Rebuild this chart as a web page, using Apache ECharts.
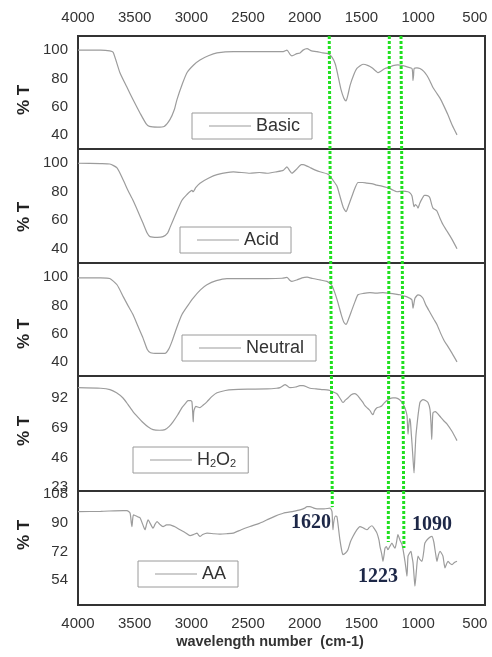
<!DOCTYPE html>
<html>
<head>
<meta charset="utf-8">
<script src="https://cdn.jsdelivr.net/npm/echarts@6/dist/echarts.min.js"></script>
<style>
  html, body { margin: 0; padding: 0; background: #fff; }
  #chart { width: 492px; height: 657px; }
</style>
</head>
<body>
<div id="chart"></div>
<script>
// FTIR transmittance spectra, one stacked panel per sample
const wavenumberTicks = [4000, 3500, 3000, 2500, 2000, 1500, 1000, 500];
const sampleNames = ['Basic', 'Acid', 'Neutral', 'H2O2', 'AA'];

const basicSpectrum = [
  [4000,100],[3800,100],[3720,99.5],[3690,98.5],[3630,84],[3570,74],[3515,65],[3450,55],[3400,48],[3370,46],
  [3300,45.5],[3240,46],[3188,51],[3150,58],[3127,65],[3080,76],[3039,84],[2980,89.5],[2924,93],[2850,96],
  [2774,98],[2630,99],[2400,99],[2250,99],[2190,99],[2157,100],[2130,97],[2113,96],[2070,97.5],[2042,98],
  [2015,100],[1980,101],[1940,99.5],[1892,99],[1840,98],[1795,97.5],[1760,95],[1730,90],[1707,82],[1680,72],
  [1655,66],[1636,64],[1620,68],[1600,75],[1570,82],[1540,87],[1486,90],[1440,89],[1407,87.5],[1370,85],
  [1354,84],[1330,85],[1292,87],[1250,88],[1222,89],[1180,89.5],[1134,89],[1090,88],[1054,87],[1048,83],
  [1045,78.5],[1040,82],[1035,87],[1010,87.5],[984,87],[950,85],[922,82],[895,78],[869,73.5],[840,70],
  [807,66],[770,60],[736,54],[700,47],[657,40]
];

const acidSpectrum = [
  [4000,100],[3800,99.8],[3720,99.5],[3656,96.7],[3600,88],[3560,81],[3515,74],[3470,66],[3427,58],[3390,51],
  [3365,48.5],[3300,48],[3250,48.5],[3210,51],[3188,55],[3140,64],[3083,74],[3040,78],[2995,81],[2985,80],
  [2960,83],[2924,86],[2850,89.5],[2774,92],[2630,94],[2483,93],[2400,93.5],[2333,93],[2250,94],[2190,95],
  [2157,97.5],[2135,95],[2113,93],[2070,96],[2030,99],[2015,99],[1980,98],[1954,97],[1900,95],[1866,94],
  [1800,92.5],[1777,91],[1750,88],[1716,84],[1690,77],[1660,69],[1636,66],[1615,70],[1583,77],[1555,83],
  [1530,86.5],[1490,86.5],[1451,86],[1400,85.5],[1363,84.6],[1320,84],[1275,83],[1230,81.5],[1186,80],[1133,80.5],
  [1089,80],[1070,79],[1054,77],[1045,73],[1036,69.5],[1025,71],[1010,70],[1001,68.5],[985,72],[966,75],
  [945,77.5],[931,77.5],[910,77],[895,75.5],[880,71],[869,68.5],[850,67.5],[834,66.5],[810,62],[781,57],
  [750,53],[719,49],[690,45],[657,40]
];

const neutralSpectrum = [
  [4000,99.5],[3800,99.5],[3720,99],[3656,94.6],[3600,86],[3560,80],[3515,73.5],[3470,65],[3427,57],[3390,49],
  [3360,46.5],[3300,46],[3233,46],[3200,49],[3171,54.5],[3130,64],[3083,73.5],[3030,80],[2986,85],[2920,91],
  [2863,94.6],[2780,97.5],[2686,99],[2500,99],[2333,99],[2200,99.2],[2157,99.8],[2135,98],[2113,97],[2070,98],
  [2024,99.5],[1980,100],[1930,99],[1866,98],[1804,97],[1777,95.5],[1760,94],[1735,89],[1707,82],[1680,74],
  [1655,68],[1636,66.5],[1615,70],[1583,77],[1555,83],[1530,87.5],[1480,88.5],[1425,89],[1370,88.7],[1310,89],
  [1250,88.5],[1200,88],[1160,87.5],[1120,86.5],[1098,86],[1072,85],[1055,84],[1048,80],[1045,78],[1040,80],
  [1028,85],[1010,87],[1001,87.5],[980,87],[957,85],[930,80],[895,75],[860,70],[834,66.5],[800,60],
  [770,55],[746,52],[700,46],[657,40]
];

const h2o2Spectrum = [
  [4000,100],[3800,99.5],[3718,98.5],[3660,96],[3603,92],[3560,87],[3515,81.5],[3470,77],[3427,73],[3380,69.5],
  [3338,67.5],[3280,67],[3233,67.5],[3195,70],[3162,73.5],[3120,79],[3083,84.5],[3050,88],[3030,90],[3005,90],
  [2995,89],[2988,80],[2984,73.5],[2978,82],[2960,85.5],[2924,84.5],[2895,86.5],[2863,89],[2820,93],[2774,96],
  [2700,97.8],[2630,98.5],[2500,98.8],[2333,99],[2250,99.5],[2218,100],[2174,102.3],[2150,101],[2130,100],[2080,100.5],
  [2042,101.5],[2015,101.5],[1980,100.5],[1954,99.5],[1900,99],[1850,98.5],[1804,98.3],[1777,97.8],[1745,96.5],[1716,95.3],
  [1690,92],[1663,88.5],[1640,90.5],[1619,92],[1590,94.5],[1557,95.3],[1535,94],[1513,91.5],[1490,89],[1469,86],
  [1445,84],[1425,82.3],[1410,80],[1398,79],[1385,82],[1363,84.5],[1340,85],[1319,86],[1300,88],[1275,90],
  [1250,91.5],[1222,92],[1200,92],[1178,91.5],[1155,90],[1134,87.5],[1115,84],[1098,78.3],[1093,70],[1089,64],
  [1083,70],[1075,76],[1068,74],[1060,64],[1054,57],[1045,45],[1036,34],[1028,48],[1020,62],[1010,71],
  [997,81],[984,88.5],[970,90],[957,90.7],[935,90],[913,88.5],[895,83],[885,70],[880,60],[876,68],
  [869,80.5],[850,81.5],[834,80.5],[800,77],[770,74],[746,72],[700,66],[657,59]
];

const aaSpectrum = [
  [4000,96.8],[3800,97],[3600,97.5],[3568,97.5],[3541,96],[3530,90],[3524,87.5],[3518,92],[3510,94.8],[3470,93.5],
  [3453,93],[3430,89],[3409,85.5],[3395,89],[3382,91.7],[3360,89],[3338,86.5],[3320,89],[3303,90.6],[3280,89],
  [3250,87.5],[3220,88.5],[3188,88.6],[3150,87.5],[3100,85.5],[3050,83.5],[3012,81.8],[2980,82.5],[2950,83.4],[2935,82],
  [2924,81.3],[2900,82.5],[2862,83.4],[2800,83],[2748,82.8],[2690,83],[2630,83.4],[2560,85.5],[2483,87.5],[2400,89.5],
  [2333,91.7],[2260,94],[2190,95.8],[2100,97],[2042,97.9],[2000,99],[1980,100],[1954,100],[1920,99],[1892,98.5],
  [1830,98.5],[1777,99],[1760,97],[1755,90],[1751,85.5],[1745,90],[1730,94],[1716,93.7],[1700,85],[1690,79.3],
  [1675,73],[1663,70],[1640,71],[1619,73],[1597,78],[1575,81.3],[1545,85],[1513,87.5],[1480,86.5],[1451,85.5],
  [1430,87],[1407,88],[1385,86],[1363,83.4],[1345,79],[1336,75],[1320,70],[1310,65.8],[1300,70],[1292,74],
  [1280,75],[1266,73],[1250,75],[1231,77.2],[1215,75],[1204,74],[1190,78],[1178,82.4],[1160,79],[1142,76.2],
  [1130,72],[1116,65.8],[1105,60],[1098,56.5],[1089,69],[1075,71],[1063,72],[1055,69],[1045,65],[1035,56],
  [1028,50.3],[1015,60],[1001,69],[985,67],[966,65.8],[950,72],[940,77.2],[910,80],[878,81.3],[862,78],
  [851,73],[840,68],[834,65.8],[820,70],[807,72],[795,71],[781,69],[770,64],[763,61.7],[750,64],
  [737,65.8],[720,64.5],[701,63.7],[680,65],[657,65.8]
];

const yTicksBasic = [40, 60, 80, 100];
const yTicksAcid = [40, 60, 80, 100];
const yTicksNeutral = [40, 60, 80, 100];
const yTicksH2O2 = [23, 46, 69, 92];
const yTicksAA = [54, 72, 90, 108];

// marked bands: text, wavenumber at top of the stack, wavenumber and height (panel units) where each guide stops
const bandLabels = ['1620', '1223', '1090'];
const bandTopWavenumber = [1784, 1254, 1151];
const bandEndWavenumber = [1757, 1263, 1125];
const bandEndLevel = [0.86, 0.554, 0.5];

const spectra = [basicSpectrum, acidSpectrum, neutralSpectrum, h2o2Spectrum, aaSpectrum];
const yTicks = [yTicksBasic, yTicksAcid, yTicksNeutral, yTicksH2O2, yTicksAA];

// panel layout
const plotLeft = 78, plotRight = 7;
const panelTop = [36, 149, 263, 376, 491];
const panelHeight = [113, 114, 113, 115, 114];
const yRange = [[30, 110], [30, 110], [30, 110], [20, 109], [38.5, 109.7]];
const legendPos = [[192, 113], [180, 227], [182, 335], [133, 447], [138, 561]];
const yTitleCenter = [100, 217, 334, 431, 535];
const xMin = 410, xMax = 4000;

const chart = echarts.init(document.getElementById('chart'), null, { renderer: 'canvas' });

const grids = [], xAxes = [], yAxes = [], series = [], legends = [], graphics = [];
const labelFont = { fontFamily: 'Liberation Sans, Arial, sans-serif', fontSize: 15, color: '#333' };
const plain = v => String(v);

sampleNames.forEach((name, i) => {
  grids.push({
    left: plotLeft, right: plotRight, top: panelTop[i], height: panelHeight[i],
    show: true, borderColor: '#333', borderWidth: 2, backgroundColor: 'transparent'
  });
  const showX = i === 0 || i === sampleNames.length - 1;
  xAxes.push({
    type: 'value', gridIndex: i, inverse: true, min: xMin, max: xMax,
    position: i === 0 ? 'top' : 'bottom',
    axisLine: { show: false }, axisTick: { show: false }, splitLine: { show: false },
    axisLabel: Object.assign({ show: showX, margin: 11, customValues: wavenumberTicks, formatter: plain }, labelFont)
  });
  yAxes.push({
    type: 'value', gridIndex: i, min: yRange[i][0], max: yRange[i][1],
    axisLine: { show: false }, axisTick: { show: false }, splitLine: { show: false },
    axisLabel: Object.assign({ margin: 10, customValues: yTicks[i], formatter: plain }, labelFont)
  });
  series.push({
    name: name, type: 'line', xAxisIndex: i, yAxisIndex: i,
    data: spectra[i], symbol: 'none', smooth: 0.2,
    lineStyle: { color: '#9c9c9c', width: 1.2 }, itemStyle: { color: '#9c9c9c' },
    z: 2
  });
  legends.push({
    data: [name], left: legendPos[i][0], top: legendPos[i][1],
    selectedMode: false, borderColor: '#9a9a9a', borderWidth: 1, borderRadius: 0,
    padding: [4, 12, 4, 17], itemWidth: 42, itemHeight: 1.2, icon: 'rect',
    itemStyle: { color: '#9c9c9c' },
    formatter: n => n === 'H2O2' ? '{n|H}{s|2}{n|O}{s|2}' : n,
    textStyle: {
      fontFamily: 'Liberation Sans, Arial, sans-serif', fontSize: 18, color: '#333',
      rich: {
        n: { fontFamily: 'Liberation Sans, Arial, sans-serif', fontSize: 18, color: '#333' },
        s: { fontFamily: 'Liberation Sans, Arial, sans-serif', fontSize: 11, color: '#333', verticalAlign: 'bottom', padding: [6, 0, 0, 0] }
      }
    }
  });
  graphics.push({
    type: 'text', x: 24, y: yTitleCenter[i], rotation: Math.PI / 2,
    style: {
      text: '% T', fontFamily: 'Liberation Sans, Arial, sans-serif', fontWeight: 'bold',
      fontSize: 17, fill: '#222', align: 'center', verticalAlign: 'middle'
    }
  });
});

// overlay spanning all five panels for the band guides (0 = bottom of last panel, 5 = top of first)
const overlay = sampleNames.length;
grids.push({ left: plotLeft, right: plotRight, top: panelTop[0], bottom: 657 - 605, show: false });
xAxes.push({ type: 'value', gridIndex: overlay, inverse: true, min: xMin, max: xMax, show: false });
yAxes.push({ type: 'value', gridIndex: overlay, min: 0, max: 5, show: false });

bandLabels.forEach((label, k) => {
  series.push({
    name: 'band ' + label, type: 'line', xAxisIndex: overlay, yAxisIndex: overlay,
    data: [[bandTopWavenumber[k], 5], [bandEndWavenumber[k], bandEndLevel[k]]],
    symbol: 'none', silent: true, z: 5,
    lineStyle: { color: '#1fe01f', width: 3, type: [3, 2], cap: 'butt' }
  });
});

// band annotations
const bandLabelPos = [[311, 523], [378, 577], [432, 525]];
bandLabels.forEach((label, k) => {
  graphics.push({
    type: 'text', x: bandLabelPos[k][0], y: bandLabelPos[k][1], z: 10,
    style: {
      text: label, fontFamily: 'Liberation Serif, Times New Roman, serif', fontWeight: 'bold',
      fontSize: 20, fill: '#1d2747', align: 'center', verticalAlign: 'middle',
      textShadowColor: 'rgba(230,130,40,0.85)', textShadowOffsetX: -1, textShadowOffsetY: 0, textShadowBlur: 0
    }
  });
});

// x-axis title
graphics.push({
  type: 'text', x: 270, y: 642,
  style: {
    text: 'wavelength number  (cm-1)', fontFamily: 'Liberation Sans, Arial, sans-serif',
    fontWeight: 'bold', fontSize: 14.5, fill: '#333', align: 'center', verticalAlign: 'middle'
  }
});

chart.setOption({
  animation: false,
  backgroundColor: '#fff',
  grid: grids,
  xAxis: xAxes,
  yAxis: yAxes,
  legend: legends,
  series: series,
  graphic: graphics
});
</script>
</body>
</html>
